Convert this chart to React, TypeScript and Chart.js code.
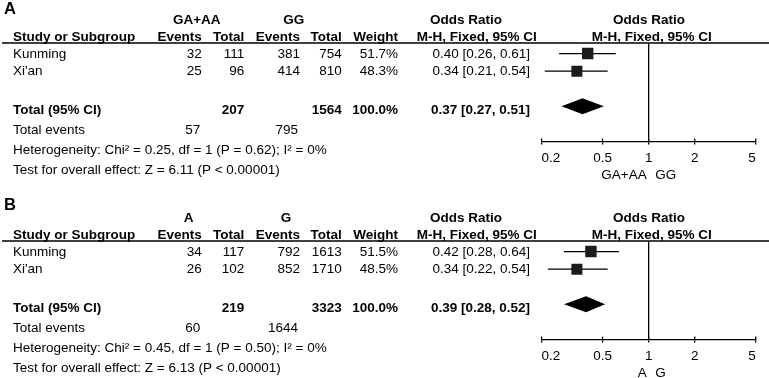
import React, { useEffect, useRef } from "react";
import { Chart, registerables } from "chart.js";

Chart.register(...registerables);

// ---------- data ----------
const studyNames = ["Kunming", "Xi'an"];
const xTickValues = [0.2, 0.5, 1, 2, 5];

// Panel A
const aGroups = ["GA+AA", "GG"];
const aEventsExp = [32, 25];
const aTotalExp = [111, 96];
const aEventsCtl = [381, 414];
const aTotalCtl = [754, 810];
const aWeights = [51.7, 48.3];
const aOR = [0.4, 0.34];
const aLower = [0.26, 0.21];
const aUpper = [0.61, 0.54];
const aPooled = [0.37, 0.27, 0.51]; // estimate, lower, upper
const aSumTotals = [207, 1564];
const aSumEvents = [57, 795];
const aHet = "Heterogeneity: Chi\u00b2 = 0.25, df = 1 (P = 0.62); I\u00b2 = 0%";
const aTest = "Test for overall effect: Z = 6.11 (P < 0.00001)";

// Panel B
const bGroups = ["A", "G"];
const bEventsExp = [34, 26];
const bTotalExp = [117, 102];
const bEventsCtl = [792, 852];
const bTotalCtl = [1613, 1710];
const bWeights = [51.5, 48.5];
const bOR = [0.42, 0.34];
const bLower = [0.28, 0.22];
const bUpper = [0.64, 0.54];
const bPooled = [0.39, 0.28, 0.52];
const bSumTotals = [219, 3323];
const bSumEvents = [60, 1644];
const bHet = "Heterogeneity: Chi\u00b2 = 0.45, df = 1 (P = 0.50); I\u00b2 = 0%";
const bTest = "Test for overall effect: Z = 6.13 (P < 0.00001)";

const studyRows = [1, 2];
const totalRow = 4;

// ---------- layout / style ----------
const W = 769;
const FONT = '"Liberation Sans", Arial, sans-serif';
const FS = 13.5;
const INK = "#000";
const COL = { name: 13, e1: 201.7, n1: 244.3, e2: 300, n2: 341.7, w: 398, or: 530 };
const Y = { group: 20.5, header: 37.5, underline: 43, axis: 141.5, totEvents: 130, het: 150, test: 170, favours: 175.5 };
const TICK_LEN = 3;
const TICK_PAD = 5.5;
const LW = 1.3;

type Panel = {
  label: string;
  labelY: number;
  groupCenters: number[];
  height: number;
  top: number;
  groups: string[];
  eventsExp: number[];
  totalExp: number[];
  eventsCtl: number[];
  totalCtl: number[];
  weights: number[];
  or: number[];
  lower: number[];
  upper: number[];
  pooled: number[];
  sumTotals: number[];
  sumEvents: number[];
  het: string;
  test: string;
};

const panelA: Panel = {
  label: "A", labelY: 9.5, groupCenters: [196.7, 293.7], height: 198, top: 0,
  groups: aGroups, eventsExp: aEventsExp, totalExp: aTotalExp, eventsCtl: aEventsCtl, totalCtl: aTotalCtl,
  weights: aWeights, or: aOR, lower: aLower, upper: aUpper, pooled: aPooled,
  sumTotals: aSumTotals, sumEvents: aSumEvents, het: aHet, test: aTest,
};
const panelB: Panel = {
  label: "B", labelY: 7.5, groupCenters: [188.7, 286], height: 180, top: 198,
  groups: bGroups, eventsExp: bEventsExp, totalExp: bTotalExp, eventsCtl: bEventsCtl, totalCtl: bTotalCtl,
  weights: bWeights, or: bOR, lower: bLower, upper: bUpper, pooled: bPooled,
  sumTotals: bSumTotals, sumEvents: bSumEvents, het: bHet, test: bTest,
};

const fmtCI = (e: number, l: number, u: number) => `${e.toFixed(2)} [${l.toFixed(2)}, ${u.toFixed(2)}]`;

function makeConfig(p: Panel): any {
  const axisHeight = TICK_LEN + FS * 1.2 + TICK_PAD * 2;
  const squareSide = (w: number) => 1.584 * Math.sqrt(w);

  const text = (ctx: CanvasRenderingContext2D, s: string, x: number, y: number, align: CanvasTextAlign, bold = false, size = FS) => {
    ctx.font = `${bold ? "bold " : ""}${size}px ${FONT}`;
    ctx.textAlign = align;
    ctx.textBaseline = "middle";
    ctx.fillStyle = INK;
    ctx.fillText(s, x, y);
  };

  const plugin = {
    id: "forestExtras",
    afterDatasetsDraw(chart: any) {
      const { ctx, scales } = chart;
      const xs = scales.x, ys = scales.y;
      const [est, lo, hi] = p.pooled;
      const cy = ys.getPixelForValue(totalRow);
      const h = 8;
      ctx.save();
      ctx.beginPath();
      ctx.moveTo(xs.getPixelForValue(lo), cy);
      ctx.lineTo(xs.getPixelForValue(est), cy - h);
      ctx.lineTo(xs.getPixelForValue(hi), cy);
      ctx.lineTo(xs.getPixelForValue(est), cy + h);
      ctx.closePath();
      ctx.fillStyle = INK;
      ctx.fill();
      ctx.restore();
    },
    afterDraw(chart: any) {
      const { ctx, scales, chartArea } = chart;
      const xs = scales.x, ys = scales.y;
      ctx.save();
      // upper half of tick marks
      ctx.strokeStyle = INK;
      ctx.lineWidth = LW;
      xs.ticks.forEach((t: any) => {
        const x = xs.getPixelForValue(t.value);
        ctx.beginPath();
        ctx.moveTo(x, chartArea.bottom - TICK_LEN);
        ctx.lineTo(x, chartArea.bottom);
        ctx.stroke();
      });
      // header underline
      ctx.beginPath();
      ctx.moveTo(2, Y.underline);
      ctx.lineTo(W, Y.underline);
      ctx.stroke();

      // panel letter
      text(ctx, p.label, 4, p.labelY, "left", true, 16.5);
      // group header
      text(ctx, p.groups[0], p.groupCenters[0], Y.group, "center", true);
      text(ctx, p.groups[1], p.groupCenters[1], Y.group, "center", true);
      text(ctx, "Odds Ratio", 466, Y.group, "center", true);
      text(ctx, "Odds Ratio", 649, Y.group, "center", true);
      // column header
      text(ctx, "Study or Subgroup", COL.name, Y.header, "left", true);
      text(ctx, "Events", COL.e1, Y.header, "right", true);
      text(ctx, "Total", COL.n1, Y.header, "right", true);
      text(ctx, "Events", COL.e2, Y.header, "right", true);
      text(ctx, "Total", COL.n2, Y.header, "right", true);
      text(ctx, "Weight", COL.w, Y.header, "right", true);
      text(ctx, "M-H, Fixed, 95% CI", 476.7, Y.header, "center", true);
      text(ctx, "M-H, Fixed, 95% CI", 651.7, Y.header, "center", true);

      // study rows
      studyNames.forEach((name, i) => {
        const y = ys.getPixelForValue(studyRows[i]) + 0.5;
        text(ctx, name, COL.name, y, "left");
        text(ctx, String(p.eventsExp[i]), COL.e1, y, "right");
        text(ctx, String(p.totalExp[i]), COL.n1, y, "right");
        text(ctx, String(p.eventsCtl[i]), COL.e2, y, "right");
        text(ctx, String(p.totalCtl[i]), COL.n2, y, "right");
        text(ctx, `${p.weights[i].toFixed(1)}%`, COL.w, y, "right");
        text(ctx, fmtCI(p.or[i], p.lower[i], p.upper[i]), COL.or, y, "right");
      });

      // total row
      const ty = ys.getPixelForValue(totalRow) + 3.5;
      const totalWeight = p.weights.reduce((a, b) => a + b, 0);
      text(ctx, "Total (95% CI)", COL.name, ty, "left", true);
      text(ctx, String(p.sumTotals[0]), COL.n1, ty, "right", true);
      text(ctx, String(p.sumTotals[1]), COL.n2, ty, "right", true);
      text(ctx, `${totalWeight.toFixed(1)}%`, COL.w, ty, "right", true);
      text(ctx, fmtCI(p.pooled[0], p.pooled[1], p.pooled[2]), COL.or, ty, "right", true);

      // footer
      text(ctx, "Total events", COL.name, Y.totEvents, "left");
      text(ctx, String(p.sumEvents[0]), COL.e1 - 1.5, Y.totEvents, "right");
      text(ctx, String(p.sumEvents[1]), COL.e2 - 2, Y.totEvents, "right");
      text(ctx, p.het, COL.name, Y.het, "left");
      text(ctx, p.test, COL.name, Y.test, "left");

      // favours labels
      const x1 = xs.getPixelForValue(1);
      text(ctx, p.groups[0], x1 - 2, Y.favours, "right");
      text(ctx, p.groups[1], x1 + 6.5, Y.favours, "left");
      ctx.restore();
    },
  };

  const ciDatasets = studyNames.map((_, i) => ({
    type: "scatter",
    data: [
      { x: p.lower[i], y: studyRows[i] },
      { x: p.upper[i], y: studyRows[i] },
    ],
    showLine: true,
    borderColor: INK,
    borderWidth: LW,
    pointRadius: 0,
    order: 2,
  }));

  return {
    type: "scatter",
    data: {
      datasets: [
        {
          type: "scatter",
          data: studyNames.map((_, i) => ({ x: p.or[i], y: studyRows[i] })),
          pointStyle: "rect",
          pointRadius: (c: any) => squareSide(p.weights[c.dataIndex]) / Math.SQRT2,
          backgroundColor: "#1c1c1c",
          borderWidth: 0,
          order: 1,
        },
        ...ciDatasets,
      ],
    },
    options: {
      responsive: false,
      animation: false,
      events: [],
      layout: {
        padding: {
          left: 541.6,
          right: W - 755.7,
          top: Y.underline,
          bottom: p.height - Y.axis - axisHeight,
        },
      },
      plugins: { legend: { display: false }, tooltip: { enabled: false }, title: { display: false } },
      scales: {
        x: {
          type: "logarithmic",
          min: 0.2,
          max: 5,
          afterBuildTicks: (scale: any) => {
            scale.ticks = xTickValues.map((v) => ({ value: v }));
          },
          ticks: {
            autoSkip: false,
            maxRotation: 0,
            align: "inner",
            padding: TICK_PAD,
            color: INK,
            font: { family: FONT, size: FS },
            callback: (v: any) => String(v),
          },
          grid: {
            display: true,
            drawOnChartArea: true,
            color: (c: any) => (c.tick && c.tick.value === 1 ? INK : "rgba(0,0,0,0)"),
            lineWidth: LW,
            drawTicks: true,
            tickLength: TICK_LEN,
            tickColor: INK,
            tickWidth: LW,
          },
          border: { display: true, color: INK, width: LW },
        },
        y: {
          type: "linear",
          min: 0.4,
          max: 6,
          reverse: true,
          display: false,
        },
      },
    },
    plugins: [plugin],
  };
}

function ForestPanel({ panel }: { panel: Panel }) {
  const ref = useRef<HTMLCanvasElement>(null);
  useEffect(() => {
    const canvas = ref.current;
    if (!canvas) return;
    const chart = new Chart(canvas, makeConfig(panel));
    return () => chart.destroy();
  }, [panel]);
  return (
    <canvas
      ref={ref}
      width={W}
      height={panel.height}
      style={{ position: "absolute", left: 0, top: panel.top, width: W, height: panel.height, display: "block" }}
    />
  );
}

export default function App() {
  return (
    <div style={{ position: "absolute", left: 0, top: 0, width: W, height: 378, background: "#fff" }}>
      <ForestPanel panel={panelA} />
      <ForestPanel panel={panelB} />
    </div>
  );
}
